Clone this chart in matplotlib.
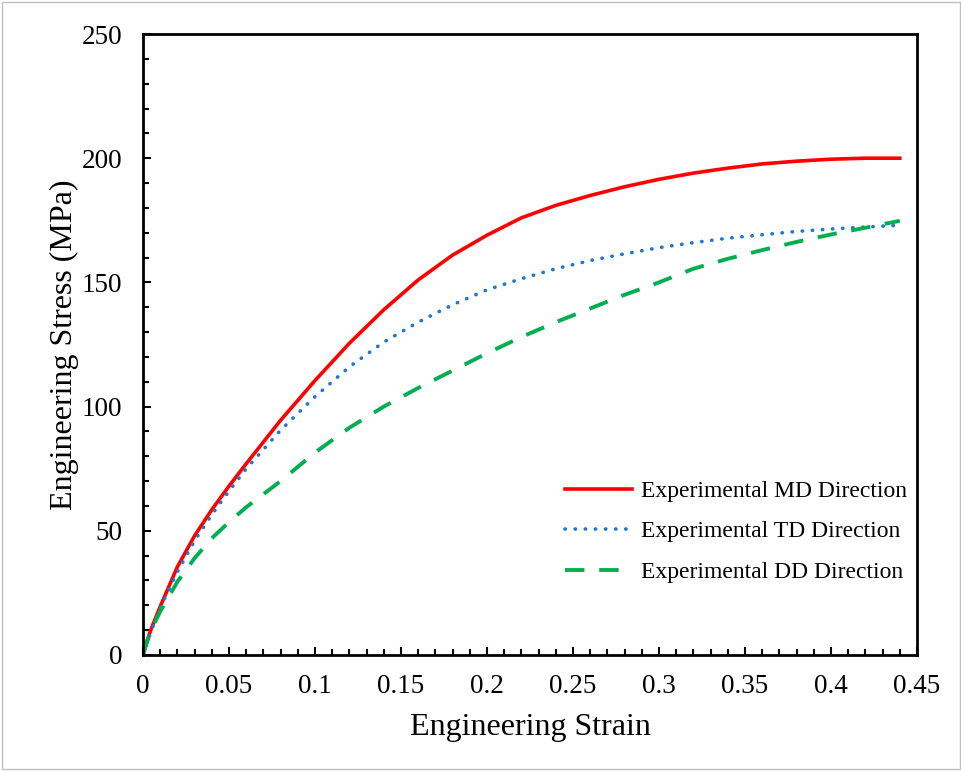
import matplotlib
matplotlib.use('Agg')
import matplotlib.pyplot as plt
from matplotlib.patches import Rectangle
from matplotlib.ticker import MultipleLocator

plt.rcParams['font.family'] = ['Liberation Serif', 'DejaVu Serif']

# strain / stress
strain = [0, 0.002, 0.005, 0.01, 0.02, 0.03, 0.04, 0.05, 0.06, 0.08, 0.1, 0.12, 0.14, 0.16, 0.18, 0.2,
          0.22, 0.24, 0.26, 0.28, 0.3, 0.32, 0.34, 0.36, 0.38, 0.4, 0.42, 0.44]
md_y = [0, 5, 11, 19.5, 35.5, 48, 58.5, 68, 77, 94.5, 110.5, 125.5, 139, 151, 161, 169,
        176, 181, 185, 188.5, 191.5, 194, 196, 197.7, 198.8, 199.6, 200, 200]
td_y = [0, 4.5, 10, 19, 33.5, 46, 56.5, 66, 75, 90.5, 104, 116, 126, 134, 141, 147,
        151.5, 155.5, 158.8, 161.5, 164, 166, 167.8, 169.2, 170.5, 171.5, 172.3, 173]
dd_y = [0, 4.5, 10.5, 17.5, 29.5, 39, 47, 53.5, 59.5, 70, 81.5, 91.5, 100, 107.5, 114.5, 121.5,
        128, 134, 139.5, 145, 150, 155.5, 159.5, 163, 166.3, 169.3, 172, 174.8]

fig = plt.figure(figsize=(9.62, 7.71), dpi=100)
ax = fig.add_axes([143/962, 1 - 655/771, 774/962, 621/771])

ax.plot(strain, md_y, color='#ff0000', lw=2.6, label='Experimental MD Direction')
ax.plot(strain, td_y, color='#1f77d0', lw=2.6, ls=(0, (0.1, 2.7)), dash_capstyle='round',
        label='Experimental TD Direction')
ax.plot(strain, dd_y, color='#00b050', lw=2.8, ls=(0, (5, 3.8)), label='Experimental DD Direction')

ax.set_xlim(0, 0.45)
ax.set_ylim(0, 250)
ax.xaxis.set_minor_locator(MultipleLocator(0.01))
ax.yaxis.set_major_locator(MultipleLocator(50))
ax.yaxis.set_minor_locator(MultipleLocator(10))
ax.set_xticks([0, 0.05, 0.1, 0.15, 0.2, 0.25, 0.3, 0.35, 0.4, 0.45])
ax.set_xticklabels(['0', '0.05', '0.1', '0.15', '0.2', '0.25', '0.3', '0.35', '0.4', '0.45'])
ax.tick_params(which='both', direction='in', labelsize=19.5, width=1.5)
ax.tick_params(which='major', length=6)
ax.tick_params(which='minor', length=4)
ax.tick_params(axis='x', which='both', pad=14)
ax.tick_params(axis='y', which='both', pad=15)
for s in ax.spines.values():
    s.set_linewidth(2)

ax.set_xlabel('Engineering Strain', fontsize=23, labelpad=10)
ax.set_ylabel('Engineering Stress (MPa)', fontsize=23, labelpad=2)

ax.legend(loc='upper left', bbox_to_anchor=(0.53, 0.3), frameon=False, fontsize=17,
          handlelength=2.85, handletextpad=0.35, labelspacing=0.8, borderpad=0)

fig.patches.append(Rectangle((0.002, 0.002), 0.996, 0.996, transform=fig.transFigure,
                             fill=False, edgecolor='#bfbfbf', lw=1))

fig.savefig('out.png', dpi=100)
